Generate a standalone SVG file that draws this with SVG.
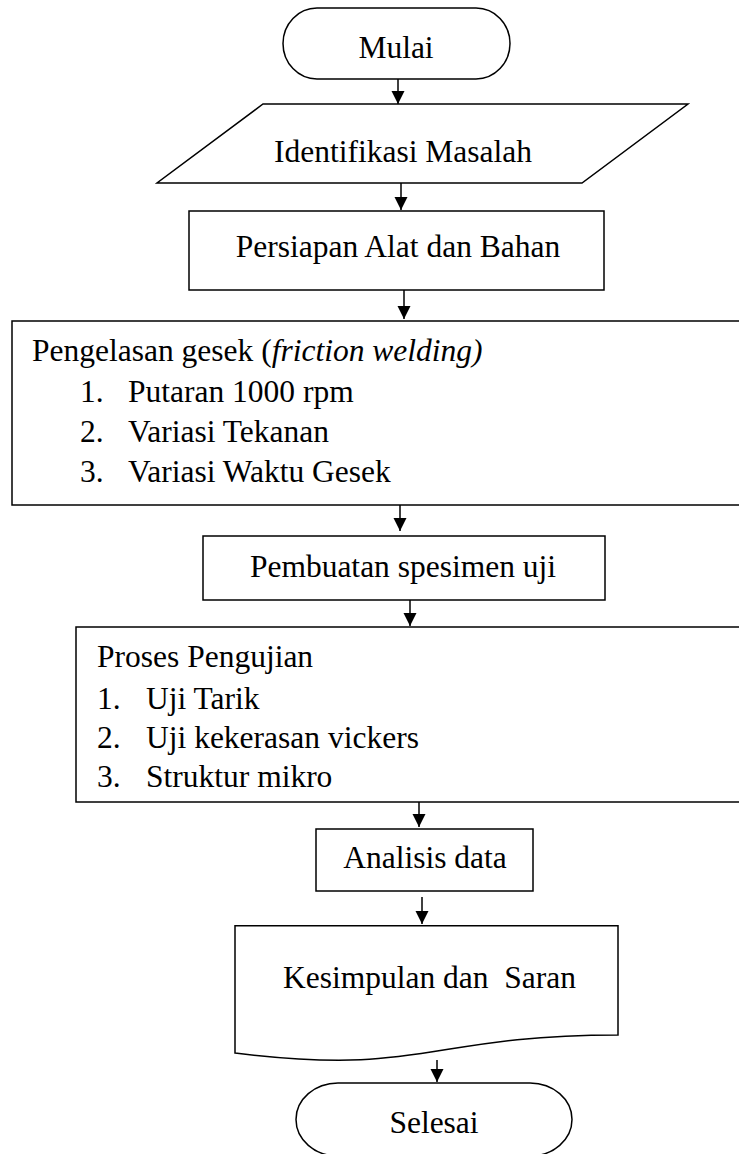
<svg xmlns="http://www.w3.org/2000/svg" width="739" height="1154" viewBox="0 0 739 1154">
<style>
  .shape { fill: #ffffff; stroke: #000000; stroke-width: 1.5; }
  .conn { stroke: #000000; stroke-width: 1.5; fill: none; marker-end: url(#arrow); }
  text { font-family: "Liberation Serif", "Times New Roman", serif; font-size: 31.5px; fill: #000000; }
  .mid { text-anchor: middle; }
</style>
<defs>
  <marker id="arrow" markerUnits="userSpaceOnUse" markerWidth="14" markerHeight="14" refX="13" refY="6.5" orient="auto">
    <path d="M0,0 L13,6.5 L0,13 Z" fill="#000000"/>
  </marker>
</defs>
<rect width="739" height="1154" fill="#ffffff"/>

<g id="connectors">
  <line class="conn" x1="398" y1="79" x2="398" y2="104"/>
  <line class="conn" x1="401" y1="183" x2="401" y2="210"/>
  <line class="conn" x1="404" y1="290" x2="404" y2="319"/>
  <line class="conn" x1="400" y1="505" x2="400" y2="531"/>
  <line class="conn" x1="410" y1="600" x2="410" y2="626"/>
  <line class="conn" x1="419" y1="802" x2="419" y2="827"/>
  <line class="conn" x1="422" y1="897" x2="422" y2="924"/>
  <line class="conn" x1="437" y1="1060" x2="437" y2="1082"/>
</g>

<g id="mulai">
  <rect class="shape" x="283" y="8" width="227" height="71" rx="34" ry="35.5"/>
  <text class="mid" x="396" y="58">Mulai</text>
</g>

<g id="identifikasi">
  <polygon class="shape" points="263,104 688,104 582,183 157,183"/>
  <text class="mid" x="403" y="162">Identifikasi Masalah</text>
</g>

<g id="persiapan">
  <rect class="shape" x="189" y="211" width="415" height="79"/>
  <text class="mid" x="398" y="257">Persiapan Alat dan Bahan</text>
</g>

<g id="pengelasan">
  <rect class="shape" x="12" y="321" width="740" height="184"/>
  <text x="32" y="361">Pengelasan gesek (<tspan font-style="italic">friction welding)</tspan></text>
  <text x="80" y="402">1.</text>
  <text x="128" y="402">Putaran 1000 rpm</text>
  <text x="80" y="442">2.</text>
  <text x="128" y="442">Variasi Tekanan</text>
  <text x="80" y="482">3.</text>
  <text x="128" y="482">Variasi Waktu Gesek</text>
</g>

<g id="pembuatan">
  <rect class="shape" x="203" y="536" width="402" height="64"/>
  <text class="mid" x="403" y="577">Pembuatan spesimen uji</text>
</g>

<g id="pengujian">
  <rect class="shape" x="76" y="627" width="680" height="175"/>
  <text x="97" y="667">Proses Pengujian</text>
  <text x="97" y="709">1.</text>
  <text x="146" y="709">Uji Tarik</text>
  <text x="97" y="748">2.</text>
  <text x="146" y="748">Uji kekerasan vickers</text>
  <text x="97" y="787">3.</text>
  <text x="146" y="787">Struktur mikro</text>
</g>

<g id="analisis">
  <rect class="shape" x="316" y="829" width="217" height="62"/>
  <text class="mid" x="425" y="868">Analisis data</text>
</g>

<g id="kesimpulan">
  <path class="shape" d="M235,925.7 L618,925.7 L618,1035 C426.5,1035 426.5,1076.6 235,1053 Z"/>
  <text x="283" y="988" xml:space="preserve">Kesimpulan dan  Saran</text>
</g>

<g id="selesai">
  <rect class="shape" x="296" y="1083" width="276" height="73" rx="42" ry="36.5"/>
  <text class="mid" x="434" y="1133">Selesai</text>
</g>
</svg>
